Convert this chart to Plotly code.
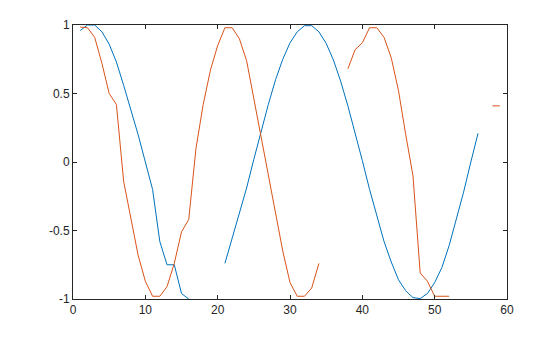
import plotly.graph_objects as go

x_vals = list(range(1, 60))

blue_vals = [0.96, 1.0, 1.0, 0.95, 0.86, 0.73, 0.56, 0.38, 0.2, 0.0,
             -0.2, -0.58, -0.75, -0.75, -0.96, -1.0, None, None, None, None,
             -0.74, -0.56, -0.38, -0.19, 0.02, 0.23, 0.42, 0.6, 0.75, 0.87,
             0.95, 0.995, 0.995, 0.95, 0.866, 0.745, 0.59, 0.41, 0.22, 0.01,
             -0.2, -0.39, -0.58, -0.73, -0.86, -0.94, -0.99, -0.997, -0.96, -0.88,
             -0.77, -0.61, -0.42, -0.22, 0.0, 0.21, None, None, None]

orange_vals = [0.985, 0.98, 0.91, 0.72, 0.5, 0.42, -0.14, -0.42, -0.68, -0.87,
               -0.98, -0.98, -0.91, -0.74, -0.51, -0.42, 0.1, 0.42, 0.67, 0.85,
               0.98, 0.98, 0.9, 0.74, 0.46, 0.2, -0.08, -0.38, -0.65, -0.88,
               -0.98, -0.98, -0.92, -0.74, None, None, None, 0.68, 0.82, 0.87,
               0.98, 0.98, 0.91, 0.76, 0.52, 0.2, -0.1, -0.81, -0.87, -0.98,
               -0.98, -0.98, None, None, None, None, None, 0.41, 0.41]

x_ticks = [0, 10, 20, 30, 40, 50, 60]
y_ticks = [-1, -0.5, 0, 0.5, 1]
y_tick_labels = ["-1", "-0.5", "0", "0.5", "1"]

fig = go.Figure()
fig.add_trace(go.Scatter(x=x_vals, y=blue_vals, mode="lines",
                         line=dict(color="rgb(0,114,189)", width=1),
                         connectgaps=False, hoverinfo="skip"))
fig.add_trace(go.Scatter(x=x_vals, y=orange_vals, mode="lines",
                         line=dict(color="rgb(217,83,25)", width=1),
                         connectgaps=False, hoverinfo="skip"))

axis_common = dict(showgrid=False, zeroline=False, showline=True, linecolor="#262626",
                   linewidth=1, mirror="ticks", ticks="inside", ticklen=4,
                   tickcolor="#262626", tickfont=dict(family="Liberation Sans, Arial", size=12, color="#262626"))

fig.update_layout(
    width=560, height=337,
    margin=dict(l=73, r=53, t=25, b=38),
    paper_bgcolor="white", plot_bgcolor="white",
    showlegend=False,
    xaxis=dict(range=[0, 60], tickvals=x_ticks, **axis_common),
    yaxis=dict(range=[-1, 1], tickvals=y_ticks, ticktext=y_tick_labels, **axis_common),
)

fig.write_html("out.html", config={"displayModeBar": False})
